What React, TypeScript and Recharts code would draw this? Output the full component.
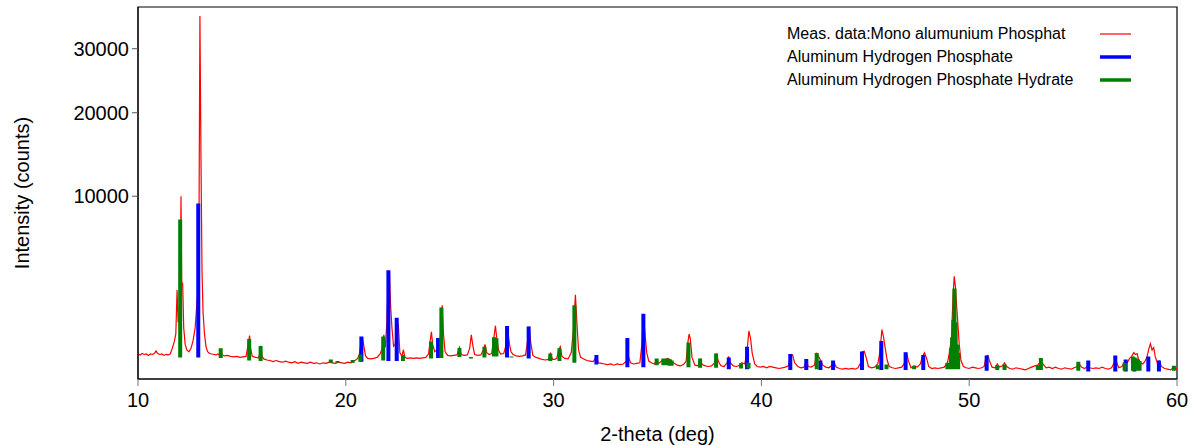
import { ComposedChart, Legend, Line, ReferenceArea, XAxis, YAxis } from "recharts";

const FONT = '"Liberation Sans", Arial, sans-serif';

const xTicks = [10, 20, 30, 40, 50, 60];
const yTicks = [10000, 20000, 30000];
const xDomain: [number, number] = [10, 60];
const yDomain: [number, number] = [86, 37600];

const seriesNames = [
  "Meas. data:Mono alumunium Phosphat",
  "Aluminum Hydrogen Phosphate",
  "Aluminum Hydrogen Phosphate Hydrate",
];
const seriesColors = ["#ff0000", "#0000ff", "#008000"];

// measured scan: [2-theta, counts]
const measured: [number, number][] = [
  [10.0, 470], [10.1, 450], [10.2, 480], [10.3, 460], [10.4, 470], [10.5, 440], [10.6, 470],
  [10.7, 460], [10.8, 490], [10.87, 540], [10.95, 480], [11.05, 460], [11.15, 470], [11.25, 440],
  [11.35, 460], [11.45, 450], [11.55, 470], [11.65, 600], [11.75, 780], [11.82, 1000], [11.88, 2850],
  [11.93, 1400], [11.98, 1600], [12.03, 3000], [12.07, 10000], [12.1, 3300], [12.15, 3200],
  [12.2, 1200], [12.27, 700], [12.35, 560], [12.45, 520], [12.55, 600], [12.65, 800], [12.75, 1200],
  [12.82, 2000], [12.88, 2800], [12.93, 5500], [12.98, 35900], [13.03, 14200], [13.08, 4000],
  [13.13, 1800], [13.2, 1000], [13.27, 650], [13.35, 520], [13.45, 480], [13.55, 470], [13.65, 460],
  [13.75, 450], [13.85, 470], [13.95, 440], [14.0, 560], [14.05, 450], [14.15, 430], [14.3, 440],
  [14.45, 420], [14.6, 410], [14.75, 420], [14.9, 400], [15.05, 410], [15.2, 420], [15.3, 700],
  [15.37, 950], [15.42, 600], [15.5, 420], [15.65, 400], [15.8, 390], [15.87, 500], [15.92, 660],
  [15.97, 420], [16.05, 370], [16.2, 350], [16.35, 340], [16.5, 320], [16.65, 340], [16.8, 320],
  [16.95, 310], [17.1, 330], [17.25, 310], [17.4, 300], [17.55, 320], [17.7, 290], [17.85, 310],
  [18.0, 300], [18.15, 290], [18.3, 310], [18.45, 290], [18.6, 300], [18.75, 280], [18.9, 300],
  [19.05, 290], [19.2, 310], [19.35, 300], [19.5, 290], [19.65, 310], [19.8, 300], [19.95, 290],
  [20.1, 310], [20.25, 300], [20.4, 330], [20.55, 370], [20.65, 450], [20.72, 700], [20.8, 905],
  [20.87, 650], [20.95, 430], [21.05, 380], [21.2, 370], [21.35, 380], [21.5, 400], [21.65, 470],
  [21.75, 600], [21.83, 973], [21.9, 620], [21.97, 1300], [22.05, 3700], [22.1, 3900], [22.15, 2200],
  [22.22, 1200], [22.3, 650], [22.38, 700], [22.47, 1450], [22.53, 1300], [22.6, 500], [22.7, 420],
  [22.77, 560], [22.85, 400], [22.95, 380], [23.1, 390], [23.25, 380], [23.4, 390], [23.55, 380],
  [23.7, 390], [23.85, 400], [23.98, 470], [24.06, 780], [24.12, 1070], [24.18, 700], [24.28, 520],
  [24.38, 560], [24.46, 800], [24.52, 700], [24.58, 1200], [24.64, 2100], [24.7, 1000], [24.78, 520],
  [24.9, 440], [25.05, 430], [25.2, 440], [25.35, 450], [25.47, 620], [25.55, 460], [25.7, 440],
  [25.85, 450], [25.96, 600], [26.04, 970], [26.12, 650], [26.2, 460], [26.35, 440], [26.5, 450],
  [26.62, 560], [26.7, 700], [26.78, 500], [26.9, 460], [27.02, 480], [27.12, 850], [27.2, 1270],
  [27.27, 850], [27.35, 560], [27.45, 470], [27.6, 480], [27.72, 700], [27.8, 1060], [27.88, 700],
  [27.95, 520], [28.05, 460], [28.2, 430], [28.35, 420], [28.5, 430], [28.65, 450], [28.75, 800],
  [28.82, 1250], [28.9, 750], [29.0, 440], [29.15, 400], [29.3, 380], [29.45, 360], [29.6, 350],
  [29.75, 360], [29.85, 480], [29.95, 360], [30.05, 360], [30.15, 380], [30.25, 560], [30.32, 640],
  [30.4, 420], [30.55, 380], [30.7, 370], [30.85, 500], [30.95, 1100], [31.05, 2610], [31.12, 1400],
  [31.2, 560], [31.3, 400], [31.45, 370], [31.6, 340], [31.75, 330], [31.9, 320], [32.02, 380],
  [32.08, 420], [32.15, 300], [32.3, 290], [32.45, 280], [32.6, 270], [32.75, 280], [32.9, 260],
  [33.05, 280], [33.2, 270], [33.35, 280], [33.5, 330], [33.6, 420], [33.7, 300], [33.85, 280],
  [34.0, 290], [34.15, 300], [34.25, 700], [34.32, 1700], [34.4, 1000], [34.48, 500], [34.58, 330],
  [34.7, 300], [34.85, 280], [34.95, 350], [35.05, 290], [35.2, 330], [35.35, 360], [35.5, 380],
  [35.65, 340], [35.8, 290], [35.95, 260], [36.1, 250], [36.25, 270], [36.38, 330], [36.45, 700],
  [36.52, 1000], [36.58, 850], [36.66, 400], [36.8, 260], [36.95, 250], [37.05, 360], [37.15, 270],
  [37.3, 250], [37.45, 240], [37.6, 250], [37.75, 300], [37.84, 480], [37.92, 330], [38.05, 250],
  [38.2, 240], [38.35, 300], [38.42, 420], [38.5, 300], [38.65, 250], [38.8, 240], [38.95, 260],
  [39.05, 300], [39.2, 280], [39.3, 500], [39.4, 1100], [39.48, 850], [39.56, 480], [39.68, 280],
  [39.8, 240], [39.95, 230], [40.1, 240], [40.25, 220], [40.4, 240], [40.55, 230], [40.7, 220],
  [40.85, 210], [41.0, 220], [41.15, 230], [41.3, 250], [41.4, 420], [41.5, 450], [41.6, 300],
  [41.75, 240], [41.9, 220], [42.05, 230], [42.17, 340], [42.25, 240], [42.4, 230], [42.55, 260],
  [42.67, 480], [42.75, 420], [42.85, 340], [42.95, 260], [43.1, 230], [43.25, 220], [43.4, 260],
  [43.5, 300], [43.6, 230], [43.75, 210], [43.9, 200], [44.05, 210], [44.2, 200], [44.35, 210],
  [44.5, 200], [44.65, 220], [44.78, 300], [44.86, 520], [44.95, 530], [45.05, 380], [45.15, 240],
  [45.3, 220], [45.45, 230], [45.6, 280], [45.7, 500], [45.8, 1140], [45.88, 900], [45.96, 600],
  [46.05, 350], [46.15, 240], [46.3, 220], [46.45, 210], [46.6, 220], [46.75, 230], [46.9, 300],
  [46.98, 500], [47.08, 330], [47.2, 220], [47.35, 250], [47.5, 230], [47.65, 280], [47.75, 420],
  [47.85, 500], [47.95, 380], [48.05, 240], [48.2, 210], [48.35, 220], [48.5, 210], [48.65, 220],
  [48.8, 230], [48.95, 300], [49.05, 500], [49.15, 900], [49.22, 2500], [49.28, 3630], [49.34, 3000],
  [49.4, 2000], [49.46, 1300], [49.52, 700], [49.6, 350], [49.72, 240], [49.85, 220], [50.0, 210],
  [50.15, 230], [50.3, 220], [50.45, 210], [50.6, 220], [50.72, 240], [50.82, 420], [50.9, 440],
  [50.98, 330], [51.1, 230], [51.25, 220], [51.35, 280], [51.45, 230], [51.6, 250], [51.7, 300],
  [51.8, 240], [51.95, 210], [52.1, 200], [52.25, 220], [52.4, 210], [52.55, 200], [52.7, 190],
  [52.85, 210], [53.0, 230], [53.15, 250], [53.3, 260], [53.45, 330], [53.55, 280], [53.7, 220],
  [53.85, 230], [54.0, 210], [54.15, 230], [54.3, 210], [54.45, 200], [54.6, 220], [54.75, 210],
  [54.9, 200], [55.05, 220], [55.2, 240], [55.3, 280], [55.4, 230], [55.55, 210], [55.7, 240],
  [55.8, 220], [55.95, 210], [56.1, 220], [56.25, 210], [56.4, 230], [56.55, 210], [56.7, 200],
  [56.85, 220], [56.98, 300], [57.08, 320], [57.2, 220], [57.35, 240], [57.5, 330], [57.6, 300],
  [57.72, 380], [57.82, 420], [57.92, 500], [58.0, 460], [58.08, 480], [58.15, 360], [58.25, 300],
  [58.35, 280], [58.45, 320], [58.55, 400], [58.65, 600], [58.72, 720], [58.8, 560], [58.88, 620],
  [58.95, 420], [59.05, 300], [59.15, 330], [59.25, 240], [59.4, 210], [59.55, 200], [59.7, 190],
  [59.85, 230], [60.0, 200],
];

// reference sticks: [2-theta, intensity, stick base]
const hydrogenPhosphate: [number, number, number][] = [
  [12.9, 9300, 400], [20.75, 920, 320], [22.05, 4000, 330], [22.45, 1570, 330], [24.44, 880, 390],
  [27.76, 1270, 400], [28.8, 1250, 380], [32.06, 450, 270], [33.55, 880, 230], [34.32, 1740, 230],
  [38.43, 400, 200], [39.31, 640, 200], [41.39, 470, 190], [42.16, 370, 190], [42.84, 340, 190],
  [43.45, 340, 190], [44.84, 525, 190], [45.77, 790, 190], [46.94, 510, 190], [47.79, 450, 190],
  [50.84, 440, 180], [55.73, 340, 170], [57.03, 440, 170], [57.53, 360, 170], [57.95, 330, 170],
  [58.62, 420, 170], [59.13, 340, 170],
];

const hydratePhase: [number, number, number][] = [
  [12.03, 7815, 400], [13.98, 600, 390], [15.35, 850, 340], [15.9, 660, 330], [19.28, 360, 300],
  [19.6, 330, 300], [20.33, 350, 300], [20.7, 460, 320], [21.8, 920, 340], [22.75, 450, 330],
  [24.1, 775, 380], [24.6, 2000, 390], [25.47, 610, 410], [26.02, 380, 410], [26.67, 640, 400],
  [27.13, 900, 420], [27.25, 870, 420], [27.97, 420, 400], [29.84, 480, 330], [30.28, 600, 330],
  [31.0, 2100, 300], [34.96, 380, 260], [35.28, 380, 260], [35.38, 360, 260], [35.48, 380, 260],
  [35.58, 370, 250], [35.68, 340, 250], [36.49, 750, 230], [37.05, 380, 220], [37.82, 480, 220],
  [39.02, 290, 210], [39.38, 300, 210], [42.66, 490, 200], [45.6, 260, 200], [46.02, 270, 200],
  [47.35, 250, 200], [48.95, 300, 200], [49.12, 600, 200], [49.18, 900, 200], [49.24, 1500, 200],
  [49.29, 2930, 200], [49.35, 1400, 200], [49.41, 700, 200], [49.47, 500, 200], [51.35, 260, 190],
  [51.7, 270, 190], [53.3, 260, 190], [53.45, 390, 190], [55.25, 320, 180], [57.48, 300, 180],
  [57.88, 420, 180], [57.96, 400, 180], [58.04, 380, 180], [58.12, 360, 180], [58.2, 330, 180],
  [59.85, 250, 180],
];

const scanData = measured.map(([x, y]) => ({ x, y }));

// each stick becomes base -> top, then a null to break the path
const toSticks = (sticks: [number, number, number][]) =>
  sticks.flatMap(([x, top, base]) => [
    { x, y: base },
    { x, y: top },
    { x, y: null },
  ]);

const tickStyle = { fill: "#000", fontSize: 20, fontFamily: FONT };

function LegendBox() {
  return (
    <div style={{ fontFamily: FONT, fontSize: 16, color: "#000" }}>
      {seriesNames.map((name, i) => (
        <div key={name} style={{ display: "flex", alignItems: "center", height: 23 }}>
          <span style={{ width: 313, whiteSpace: "nowrap" }}>{name}</span>
          <svg width={31} height={6} style={{ display: "block" }}>
            <line x1={0} x2={31} y1={3} y2={3} stroke={seriesColors[i]} strokeWidth={i === 0 ? 1.2 : 3.5} />
          </svg>
        </div>
      ))}
    </div>
  );
}

export default function App() {
  return (
    <div style={{ position: "absolute", left: 0, top: 0, width: 1195, height: 445, background: "#fff" }}>
      <ComposedChart width={1195} height={445} margin={{ top: 7, right: 18, bottom: 0, left: 0 }}>
        <XAxis
          dataKey="x"
          type="number"
          domain={xDomain}
          ticks={xTicks}
          allowDataOverflow
          height={66}
          tickSize={7}
          tickMargin={7}
          tick={tickStyle}
          axisLine={{ stroke: "#000" }}
          tickLine={{ stroke: "#777" }}
          label={{ value: "2-theta (deg)", position: "insideBottom", offset: 4, fill: "#000", fontSize: 20, fontFamily: FONT }}
        />
        <YAxis
          type="number"
          scale="sqrt"
          domain={yDomain}
          ticks={yTicks}
          allowDataOverflow
          width={138}
          tickSize={6}
          tickMargin={3}
          tick={tickStyle}
          axisLine={{ stroke: "#000" }}
          tickLine={{ stroke: "#555" }}
          label={{
            value: "Intensity (counts)",
            angle: -90,
            position: "insideLeft",
            offset: 22,
            fill: "#000",
            fontSize: 20,
            fontFamily: FONT,
            style: { textAnchor: "middle" },
          }}
        />
        <ReferenceArea
          x1={xDomain[0]}
          x2={xDomain[1]}
          y1={yDomain[0]}
          y2={yDomain[1]}
          fill="none"
          stroke="#000"
          strokeWidth={1.2}
          ifOverflow="extendDomain"
        />
        <Legend
          layout="vertical"
          align="center"
          verticalAlign="middle"
          wrapperStyle={{ left: 787, top: 22, width: 360, height: 70 }}
          content={<LegendBox />}
        />
        <Line
          data={scanData}
          dataKey="y"
          name={seriesNames[0]}
          stroke={seriesColors[0]}
          strokeWidth={1.2}
          dot={false}
          activeDot={false}
          isAnimationActive={false}
        />
        <Line
          data={toSticks(hydrogenPhosphate)}
          dataKey="y"
          name={seriesNames[1]}
          stroke={seriesColors[1]}
          strokeWidth={4}
          strokeLinecap="butt"
          dot={false}
          activeDot={false}
          isAnimationActive={false}
        />
        <Line
          data={toSticks(hydratePhase)}
          dataKey="y"
          name={seriesNames[2]}
          stroke={seriesColors[2]}
          strokeWidth={4}
          strokeLinecap="butt"
          dot={false}
          activeDot={false}
          isAnimationActive={false}
        />
      </ComposedChart>
    </div>
  );
}
